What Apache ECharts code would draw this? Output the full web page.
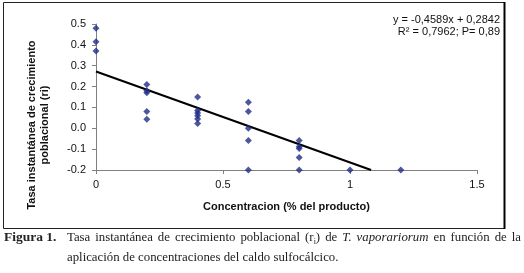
<!DOCTYPE html>
<html><head><meta charset="utf-8">
<script src="https://cdn.jsdelivr.net/npm/echarts@6/dist/echarts.min.js"></script>
<style>html,body{margin:0;padding:0;background:#fff}#c{width:524px;height:273px}</style>
</head><body><div id="c"></div>
<script>
// Data
const concentrations = [0,0,0, 0.2,0.2,0.2,0.2,0.2, 0.4,0.4,0.4,0.4,0.4,0.4, 0.6,0.6,0.6,0.6,0.6, 0.8,0.8,0.8,0.8,0.8, 1.0, 1.2];
const growthRates   = [0.48,0.415,0.37, 0.21,0.18,0.17,0.08,0.043, 0.15,0.085,0.073,0.06,0.045,0.023, 0.125,0.08,0.0,-0.058,-0.2, -0.058,-0.088,-0.097,-0.14,-0.2, -0.2, -0.2];
const trendX = [0, 1.083];
const trendY = [0.272, -0.2];
const xTicks = [0, 0.5, 1, 1.5];
const yTicks = [-0.2, -0.1, 0.0, 0.1, 0.2, 0.3, 0.4, 0.5];
const equationLines = ['y = -0,4589x + 0,2842', 'R² = 0,7962; P= 0,89'];
const yTitle = 'Tasa instantánea de crecimiento\npoblacional (ri)';
const xTitle = 'Concentracion (% del producto)';
const captionLabel = 'Figura 1.';
// caption line 1 words: [text, style]; groups of pieces form one word
const captionLine1 = [
  [['Tasa','']],[['instantánea','']],[['de','']],[['crecimiento','']],[['poblacional','']],
  [['(r',''],['i','sub'],[')','']],[['de','']],[['T.','it']],[['vaporariorum','it']],
  [['en','']],[['función','']],[['de','']],[['la','']]
];
const captionLine2 = 'aplicación de concentraciones del caldo sulfocálcico.';

const scatterData = concentrations.map((x,i)=>[x, growthRates[i]]);
const trendData = trendX.map((x,i)=>[x, trendY[i]]);

const serif = '"Liberation Serif","DejaVu Serif",serif';
const sans = '"Liberation Sans",Arial,sans-serif';
const capSize = 12.8;
function pieceFont(st){ return (st==='it'?'italic ':'') + (st==='sub'? '8px ' : capSize+'px ') + serif; }

const graphics = [
  {type:'rect', shape:{x:3.5,y:2.5,width:501,height:226}, style:{fill:'none',stroke:'#222',lineWidth:1}, z:0},
  {type:'line', shape:{x1:504.5,y1:2,x2:504.5,y2:229}, style:{stroke:'#000',lineWidth:2}},
  {type:'text', x:500, y:20, style:{text:equationLines[0], font:'11px '+sans, fill:'#111', textAlign:'right', textVerticalAlign:'middle'}},
  {type:'text', x:500, y:32, style:{text:equationLines[1], font:'11px '+sans, fill:'#111', textAlign:'right', textVerticalAlign:'middle'}},
  {type:'text', x:38.5, y:125, rotation:Math.PI/2, style:{text:yTitle, font:'bold 11px '+sans, lineHeight:13, fill:'#111', textAlign:'center', textVerticalAlign:'middle'}},
  {type:'text', x:4, y:238, style:{text:captionLabel, font:'bold 13.5px '+serif, fill:'#222', textVerticalAlign:'middle'}},
  {type:'text', x:67, y:258, style:{text:captionLine2, font:capSize+'px '+serif, fill:'#222', textVerticalAlign:'middle'}}
];

// justify caption line 1 between 67 and 521
const ctx = document.createElement('canvas').getContext('2d');
const widths = captionLine1.map(word => word.reduce((s,p)=>{ctx.font=pieceFont(p[1]); return s+ctx.measureText(p[0]).width;},0));
const total = widths.reduce((a,b)=>a+b,0);
const lineStart = 67, lineEnd = 521;
const gap = (lineEnd - lineStart - total) / (captionLine1.length - 1);
let cx = lineStart;
captionLine1.forEach((word,wi)=>{
  let px = cx;
  word.forEach(p=>{
    ctx.font = pieceFont(p[1]);
    graphics.push({type:'text', x:px, y: p[1]==='sub'?242:238, style:{text:p[0], font:pieceFont(p[1]), fill:'#222', textVerticalAlign:'middle'}});
    px += ctx.measureText(p[0]).width;
  });
  cx += widths[wi] + gap;
});

const chart = echarts.init(document.getElementById('c'), null, {renderer:'canvas'});
chart.setOption({
  animation:false,
  backgroundColor:'#fff',
  grid:{left:96, right:47, top:24, bottom:103, containLabel:false},
  xAxis:{type:'value', min:0, max:1.5, interval:0.5,
    axisLine:{show:true, onZero:false, lineStyle:{color:'#808080', width:1}},
    axisTick:{show:true, length:4, lineStyle:{color:'#808080'}},
    splitLine:{show:false},
    axisLabel:{margin:9, color:'#111', fontFamily:sans, fontSize:11, formatter:v=>xTicks.includes(v)?String(v):''},
    name:xTitle, nameLocation:'middle', nameGap:31,
    nameTextStyle:{fontFamily:sans, fontSize:11, fontWeight:'bold', color:'#111'}
  },
  yAxis:{type:'value', min:-0.2, max:0.5, interval:0.1,
    axisLine:{show:true, onZero:false, lineStyle:{color:'#808080', width:1}},
    axisTick:{show:true, length:4, lineStyle:{color:'#808080'}},
    splitLine:{show:false},
    axisLabel:{margin:10, color:'#111', fontFamily:sans, fontSize:11, formatter:v=>v.toFixed(1)}
  },
  series:[
    {type:'line', data:trendData, showSymbol:false, symbol:'none', lineStyle:{color:'#000', width:2}, z:2},
    {type:'scatter', data:scatterData, symbol:'diamond', symbolSize:7, itemStyle:{color:'#1F2D86'}, z:3}
  ],
  graphic:graphics
});
</script></body></html>
